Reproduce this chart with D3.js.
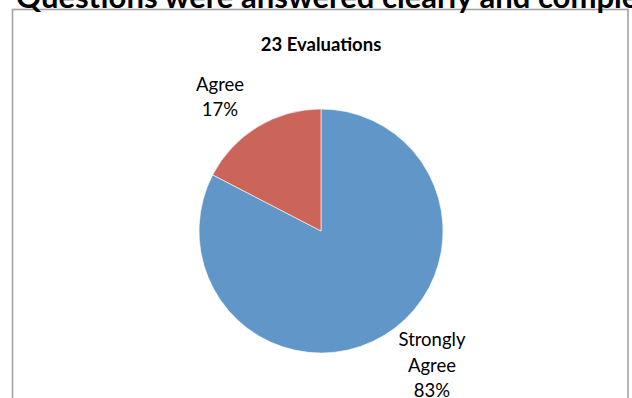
<!DOCTYPE html>
<html>
<head>
<meta charset="utf-8">
<script src="https://cdn.jsdelivr.net/npm/d3@7"></script>
<style>
  html, body { margin: 0; padding: 0; background: #fff; overflow: hidden; }
  svg { display: block; }
</style>
</head>
<body>
<svg id="chart" width="632" height="398"></svg>
<script>
// ---- data ----
const chartTitle = "Questions were answered clearly and completely";
const subTitle = "23 Evaluations";
const categories = ["Strongly Agree", "Agree"];
const values = [19, 4];
const labelLines = [["Strongly", "Agree"], ["Agree"]];
const colors = ["#6096c8", "#cb655a"];

// ---- layout ----
const W = 632, H = 398;
const svg = d3.select("#chart");
const cx = 321, cy = 231, radius = 122;
const total = d3.sum(values);
const FONT = "Lato, 'Open Sans', sans-serif";

// chart frame
svg.append("rect")
  .attr("x", 12.5).attr("y", 9.5)
  .attr("width", 615.5).attr("height", 420)
  .attr("fill", "none")
  .attr("stroke", "#a3a3a3")
  .attr("stroke-width", 1.6);

// big title (clipped at top like the reference)
const title = svg.append("text")
  .attr("x", 16).attr("y", 7.5)
  .attr("font-family", FONT)
  .attr("font-weight", "bold")
  .attr("font-size", 24)
  .attr("fill", "#000")
  .text(chartTitle);
const probe = svg.append("text")
  .attr("font-family", FONT)
  .attr("font-weight", "bold")
  .attr("font-size", 24)
  .text("Questions were answered clearly and compl");
const pw = probe.node().getComputedTextLength();
probe.remove();
title.attr("font-size", 24 * 606 / pw);

// subtitle
const sub = svg.append("text")
  .attr("x", cx).attr("y", 50.5)
  .attr("text-anchor", "middle")
  .attr("font-family", FONT)
  .attr("font-weight", "bold")
  .attr("font-size", 18.5)
  .attr("fill", "#000")
  .text(subTitle);

// pie
const pie = d3.pie().sort(null).value(d => d.value);
const data = categories.map((c, i) => ({ cat: c, value: values[i], i }));
const arcs = pie(data);
const arc = d3.arc().innerRadius(0).outerRadius(radius);

const g = svg.append("g").attr("transform", `translate(${cx},${cy})`);
g.selectAll("path")
  .data(arcs)
  .enter().append("path")
  .attr("d", arc)
  .attr("fill", d => colors[d.data.i])
  .attr("stroke", "#ffffff")
  .attr("stroke-width", 0.6);

// labels
const labelR = 171, angOff = -7 * Math.PI / 180, dxShift = 5;
const fs = 18.5, lh = 25.5, capH = 13.2;
arcs.forEach(d => {
  const mid = (d.startAngle + d.endAngle) / 2 + angOff;
  const lx = Math.sin(mid) * labelR + dxShift;
  const ly = -Math.cos(mid) * labelR;
  const pct = Math.round(d.data.value / total * 100) + "%";
  const lines = labelLines[d.data.i].concat([pct]);
  const t = g.append("text")
    .attr("text-anchor", "middle")
    .attr("font-family", FONT)
    .attr("font-size", fs)
    .attr("fill", "#000");
  lines.forEach((ln, k) => {
    t.append("tspan")
      .attr("x", lx)
      .attr("y", ly - (lines.length - 1) * lh / 2 + k * lh + capH / 2)
      .text(ln);
  });
});
</script>
</body>
</html>
